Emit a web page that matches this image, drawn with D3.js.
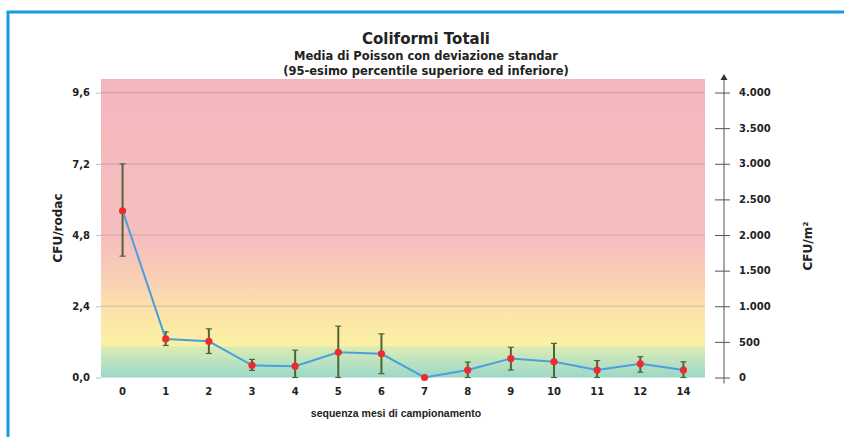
<!DOCTYPE html>
<html>
<head>
<meta charset="utf-8">
<script src="https://cdn.jsdelivr.net/npm/d3@7"></script>
<style>
  body { margin: 0; background: #fff; }
  svg text { font-family: "DejaVu Sans", Verdana, sans-serif; font-weight: bold; fill: #222; }
</style>
</head>
<body>
<div id="chart"></div>
<script>
// sampling months and Poisson means with 95th percentile bounds (CFU/rodac)
const months = ["0", "1", "2", "3", "4", "5", "6", "7", "8", "9", "10", "11", "12", "14"];
const means = [5.62, 1.30, 1.22, 0.41, 0.38, 0.85, 0.80, 0.00, 0.25, 0.64, 0.53, 0.25, 0.46, 0.25];
const upper = [7.20, 1.54, 1.64, 0.61, 0.92, 1.73, 1.47, 0.00, 0.52, 1.02, 1.15, 0.57, 0.70, 0.53];
const lower = [4.09, 1.08, 0.81, 0.24, 0.00, 0.00, 0.13, 0.00, 0.00, 0.25, 0.00, 0.00, 0.18, 0.00];

const leftTicks = [0, 2.4, 4.8, 7.2, 9.6];
const rightTicks = [0, 500, 1000, 1500, 2000, 2500, 3000, 3500, 4000];

// background colour bands (value on left axis -> colour)
const bandStops = [
  { v: 0.00, c: "#9bd8c9" },
  { v: 0.55, c: "#bde3c0" },
  { v: 1.04, c: "#dcedb3" },
  { v: 1.06, c: "#fbf1a4" },
  { v: 1.70, c: "#fceaa6" },
  { v: 2.40, c: "#fde0ab" },
  { v: 3.30, c: "#f9d0b4" },
  { v: 4.50, c: "#f6bfbe" },
  { v: 10.06, c: "#f4b6be" }
];

const width = 844, height = 437;
const plot = { left: 101, right: 705, top: 79, bottom: 377.5 };
const yMaxLeft = 10.06, yMaxRight = 4190;

const svg = d3.select("#chart").append("svg")
    .attr("width", width)
    .attr("height", height);

const x = d3.scaleBand().domain(months).range([plot.left, plot.right]);
const y = d3.scaleLinear().domain([0, yMaxLeft]).range([plot.bottom, plot.top]);
const y2 = d3.scaleLinear().domain([0, yMaxRight]).range([plot.bottom, plot.top]);

// gradient background
const grad = svg.append("defs").append("linearGradient")
    .attr("id", "bg")
    .attr("gradientUnits", "userSpaceOnUse")
    .attr("x1", 0).attr("x2", 0)
    .attr("y1", y(0)).attr("y2", y(yMaxLeft));
grad.selectAll("stop")
    .data(bandStops)
    .enter().append("stop")
    .attr("offset", d => d.v / yMaxLeft)
    .attr("stop-color", d => d.c);

svg.append("rect")
    .attr("x", plot.left).attr("y", y(yMaxLeft))
    .attr("width", plot.right - plot.left).attr("height", y(0) - y(yMaxLeft))
    .attr("fill", "url(#bg)");

// grid lines
svg.append("g").selectAll("line")
    .data(leftTicks.filter(d => d > 0))
    .enter().append("line")
    .attr("x1", plot.left).attr("x2", plot.right)
    .attr("y1", d => y(d)).attr("y2", d => y(d))
    .attr("stroke", "#8a7a78")
    .attr("stroke-opacity", 0.25)
    .attr("stroke-width", 1.6);

// left axis
const fmtLeft = v => d3.format(".1f")(v).replace(".", ",");
const gLeft = svg.append("g")
    .attr("transform", `translate(${plot.left},0)`)
    .call(d3.axisLeft(y).tickValues(leftTicks).tickFormat(fmtLeft).tickSize(5).tickPadding(6));
gLeft.select(".domain").remove();
gLeft.selectAll(".tick line").attr("stroke", "#a9c8de");
gLeft.selectAll("text").style("font-size", "10px");

// right axis
const it = d3.formatLocale({ decimal: ",", thousands: ".", grouping: [3], currency: ["", ""] });
const axisX = 724;
const gRight = svg.append("g")
    .attr("transform", `translate(${axisX},0)`)
    .call(d3.axisRight(y2).tickValues(rightTicks).tickFormat(it.format(",d")).tickSize(6).tickPadding(9));
gRight.select(".domain").remove();
gRight.selectAll(".tick line").attr("x1", -9).attr("x2", 6).attr("stroke", "#555");
gRight.selectAll("text").style("font-size", "10px").attr("x", 15);
gRight.append("line")
    .attr("x1", 0).attr("x2", 0)
    .attr("y1", y2(0) + 6).attr("y2", y(yMaxLeft) - 1)
    .attr("stroke", "#555");
gRight.append("path")
    .attr("d", `M-3.5,${y(yMaxLeft) + 1}L0,${y(yMaxLeft) - 5}L3.5,${y(yMaxLeft) + 1}Z`)
    .attr("fill", "#333");

// x axis
const gX = svg.append("g")
    .attr("transform", `translate(0,${plot.bottom})`)
    .call(d3.axisBottom(x).tickSize(0).tickPadding(10));
gX.select(".domain").remove();
gX.selectAll("text").style("font-size", "10px");

// error bars
const cx = d => x(d) + x.bandwidth() / 2;
const bars = svg.append("g").selectAll("g")
    .data(months.map((m, i) => ({ m, lo: lower[i], hi: upper[i] })).filter(d => d.hi > d.lo))
    .enter().append("g")
    .attr("stroke", "#4e6536")
    .attr("stroke-width", 2);
bars.append("line")
    .attr("x1", d => cx(d.m)).attr("x2", d => cx(d.m))
    .attr("y1", d => y(d.lo)).attr("y2", d => y(d.hi));
bars.append("line")
    .attr("x1", d => cx(d.m) - 3).attr("x2", d => cx(d.m) + 3)
    .attr("y1", d => y(d.hi)).attr("y2", d => y(d.hi))
    .attr("stroke-width", 1.2);
bars.append("line")
    .attr("x1", d => cx(d.m) - 3).attr("x2", d => cx(d.m) + 3)
    .attr("y1", d => y(d.lo)).attr("y2", d => y(d.lo))
    .attr("stroke-width", 1.2);

// mean line and points
const line = d3.line()
    .x((d, i) => cx(months[i]))
    .y(d => y(d));
svg.append("path")
    .datum(means)
    .attr("d", line)
    .attr("fill", "none")
    .attr("stroke", "#4b9fdc")
    .attr("stroke-width", 2);

svg.append("g").selectAll("circle")
    .data(means)
    .enter().append("circle")
    .attr("cx", (d, i) => cx(months[i]))
    .attr("cy", d => y(d))
    .attr("r", 3.6)
    .attr("fill", "#ec2a30");

// titles
svg.append("text")
    .attr("x", 426).attr("y", 44)
    .attr("text-anchor", "middle")
    .style("font-size", "15px")
    .text("Coliformi Totali");
svg.append("text")
    .attr("x", 426).attr("y", 60)
    .attr("text-anchor", "middle")
    .style("font-size", "11.5px")
    .text("Media di Poisson con deviazione standar");
svg.append("text")
    .attr("x", 426).attr("y", 75)
    .attr("text-anchor", "middle")
    .style("font-size", "11.5px")
    .text("(95-esimo percentile superiore ed inferiore)");

svg.append("text")
    .attr("transform", "translate(62,228) rotate(-90)")
    .attr("text-anchor", "middle")
    .style("font-size", "12px")
    .text("CFU/rodac");
svg.append("text")
    .attr("transform", "translate(812,246) rotate(-90)")
    .attr("text-anchor", "middle")
    .style("font-size", "12px")
    .text("CFU/m²");

svg.append("text")
    .attr("x", 396).attr("y", 417)
    .attr("text-anchor", "middle")
    .style("font-family", "'Liberation Sans', Arial, sans-serif")
    .style("font-size", "10.5px")
    .text("sequenza mesi di campionamento");

// frame (right and bottom edges fall outside the picture)
svg.append("rect")
    .attr("x", 8).attr("y", 12)
    .attr("width", 900).attr("height", 450)
    .attr("fill", "none")
    .attr("stroke", "#1c9ade")
    .attr("stroke-width", 3);
</script>
</body>
</html>
